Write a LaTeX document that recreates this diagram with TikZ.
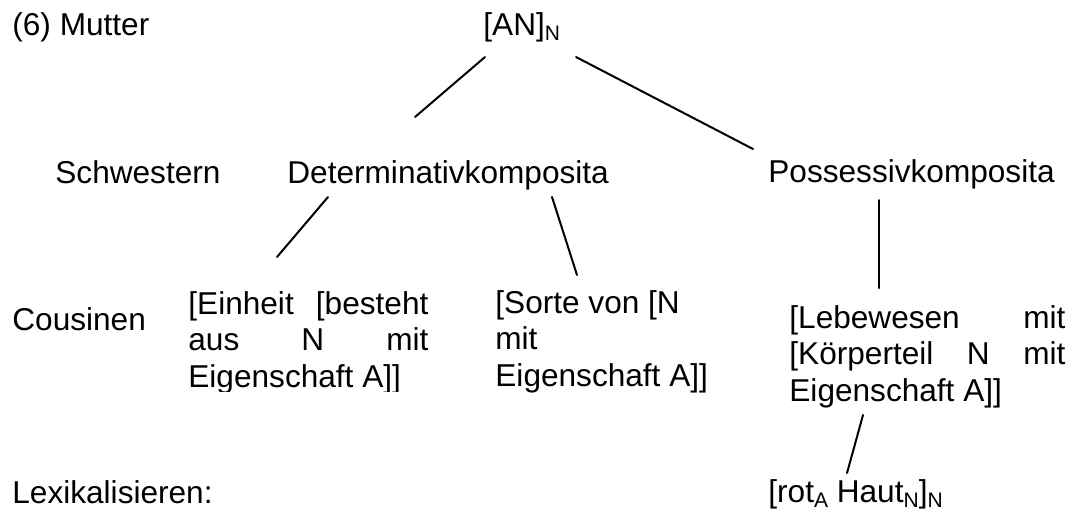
\documentclass[tikz,border=0pt]{standalone}
\usepackage{fontspec}
\setmainfont{Liberation Sans}
\newcommand\lowsub[1]{\raisebox{-2.5pt}{\fontsize{10.5}{12}\selectfont #1}}
\begin{document}
\begin{tikzpicture}[x=0.5pt,y=-0.5pt,
  lbl/.style={anchor=base west,inner sep=0pt,font={\fontsize{15.8}{18.4}\selectfont}},
  branch/.style={line width=1pt,line cap=round}]
\fill[white] (0,0) rectangle (1074,511);
\useasboundingbox (0,0) rectangle (1074,511);
% labels
\node[lbl] (mutter) at (12,35) {(6) Mutter};
\node[lbl] (an) at (483,35) {[AN]\lowsub{N}};
\node[lbl] (schw) at (55,183) {Schwestern};
\node[lbl] (det) at (287,183) {Determinativkomposita};
\node[lbl] (poss) at (768,182) {Possessivkomposita};
\node[lbl] (cous) at (12,330) {Cousinen};
\begin{scope}
\clip (180,280) rectangle (440,391);
\node[lbl] (box1) at (188,314) {\parbox[t]{120pt}{\makebox[120pt][s]{[Einheit [besteht}\\\makebox[120pt][s]{aus N mit}\\Eigenschaft A]]}};
\end{scope}
\node[lbl] (box2) at (495,313) {\parbox[t]{120pt}{\makebox[0pt][l]{[Sorte von [N}\\mit\\Eigenschaft A]]}};
\node[lbl] (box3) at (789,328) {\parbox[t]{138pt}{\makebox[138pt][s]{[Lebewesen mit}\\\makebox[138pt][s]{[Körperteil N mit}\\Eigenschaft A]]}};
\node[lbl] (lex) at (12,503) {Lexikalisieren:};
\node[lbl] (rot) at (768,502) {[rot\lowsub{A} Haut\lowsub{N}]\lowsub{N}};
% connector end points
\coordinate (a1) at (485,57);  \coordinate (a2) at (415,117);
\coordinate (b1) at (576,57);  \coordinate (b2) at (753,149);
\coordinate (c1) at (328,197); \coordinate (c2) at (277,257);
\coordinate (d1) at (552,197); \coordinate (d2) at (577,275);
\coordinate (e1) at (879,200); \coordinate (e2) at (879,288);
\coordinate (f1) at (863,415); \coordinate (f2) at (847,473);
\draw[branch] (a1) -- (a2);
\draw[branch] (b1) -- (b2);
\draw[branch] (c1) -- (c2);
\draw[branch] (d1) -- (d2);
\draw[branch] (e1) -- (e2);
\draw[branch] (f1) -- (f2);
\end{tikzpicture}
\end{document}
